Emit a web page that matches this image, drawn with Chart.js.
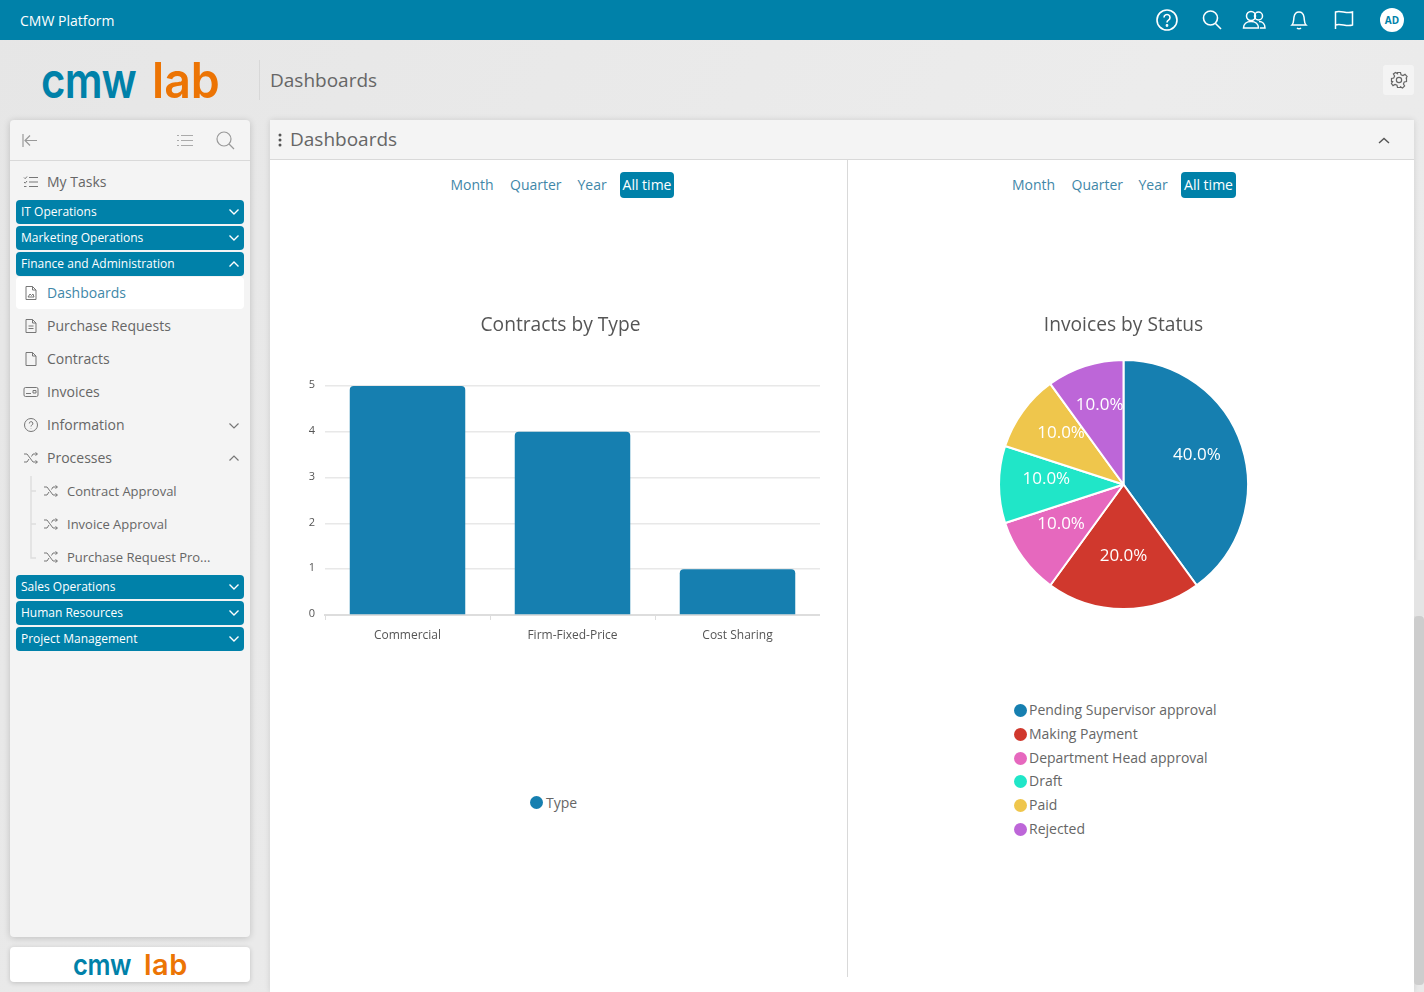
<!DOCTYPE html>
<html lang="en">
<head>
  <meta charset="utf-8">
  <title>CMW Platform - Dashboards</title>
  <script src="https://cdn.jsdelivr.net/npm/chart.js"></script>
  <style>
    html, body { margin: 0; padding: 0; height: 992px; overflow: hidden; }
    body { font-family: 'Open Sans', sans-serif; background: linear-gradient(120deg, #e6e6e6, #ececec 60%, #e9e9e9); color: #666; position: relative; }
    .abs, canvas { position: absolute; }
    .topbar { left: 0; top: 0; width: 1424px; height: 40px; background: #0081a9; color: #fff; }
    .topbar .brand { position: absolute; left: 20px; top: 11px; font-size: 14px; line-height: 19px; font-weight: 500; }
    .topbar svg { position: absolute; top: 8px; }
    .avatar { position: absolute; left: 1380px; top: 8px; width: 24px; height: 24px; border-radius: 50%; background: #fff; color: #0081a9; font-size: 10px; font-weight: 700; line-height: 24px; text-align: center; }
    .logo { font-family: Inter, sans-serif; font-weight: 600; white-space: nowrap; transform-origin: left center; }
    .pagetitle { left: 270px; top: 66px; font-size: 19px; line-height: 28px; color: #666; }
    .sep { left: 259px; top: 60px; width: 1px; height: 40px; background: #d8d8d8; }
    .gear { left: 1383px; top: 65px; width: 31px; height: 30px; background: #f4f4f4; border-radius: 3px; }
    .sidebar { left: 10px; top: 120px; width: 240px; height: 817px; background: #f4f4f4; border-radius: 4px; box-shadow: 0 1px 7px rgba(0,0,0,.18); }
    .sidehead { left: 10px; top: 120px; width: 240px; height: 40px; border-bottom: 1px solid #d9d9d9; }
    .group { left: 16px; width: 228px; height: 24px; background: #0081a9; border-radius: 4px; color: #fff; font-size: 12px; line-height: 24px; font-weight: 500; text-indent: 5px; }
    .group svg { position: absolute; right: 4px; top: 6px; }
    .active { left: 16px; top: 277px; width: 228px; height: 32px; background: #fff; border-radius: 4px; }
    .item { font-size: 14px; line-height: 20px; color: #666; white-space: nowrap; }
    .sub { font-size: 13px; }
    .panel { left: 270px; top: 120px; width: 1144px; height: 872px; background: #fff; box-shadow: 0 0 6px rgba(0,0,0,.12); }
    .panelhead { left: 270px; top: 120px; width: 1144px; height: 39px; background: #f4f4f4; border-bottom: 1px solid #d9d9d9; }
    .paneltitle { left: 290px; top: 125px; font-size: 19px; line-height: 28px; color: #666; }
    .divider { left: 847px; top: 160px; width: 1px; height: 817px; background: #d9d9d9; }
    .range { font-size: 14px; line-height: 26px; color: #3f87a8; white-space: nowrap; }
    .range.on { background: #0081a9; color: #fff; border-radius: 4px; text-align: center; height: 26px; }
    .scroll { left: 1414px; top: 616px; width: 10px; height: 369px; background: #cdcdcd; border-radius: 4px; }
    .legend-row { position: absolute; font-size: 14px; line-height: 18px; color: #666; white-space: nowrap; }
    .legend-row i { position: absolute; left: 0; top: 2.500px; width: 13px; height: 13px; border-radius: 50%; }
    .footer { left: 10px; top: 947px; width: 240px; height: 35px; background: #fff; border-radius: 4px; box-shadow: 0 1px 5px rgba(0,0,0,.18); }
  </style>
</head>
<body>
  <div class="abs topbar">
    <span class="brand">CMW Platform</span>
    <svg style="left:1155px" width="24" height="24" viewBox="0 0 24 24" fill="none" stroke="#fff" stroke-width="1.6"><circle cx="12" cy="12" r="10"/><path d="M9 9.500a3 3 0 1 1 4.500 2.600c-1 .6-1.500 1.200-1.500 2.400"/><circle cx="12" cy="17.500" r=".6"/></svg>
    <svg style="left:1200px" width="24" height="24" viewBox="0 0 24 24" fill="none" stroke="#fff" stroke-width="1.6"><circle cx="10.500" cy="10" r="7"/><path d="M15.500 15.500l5.500 5.500"/></svg>
    <svg style="left:1242px" width="24" height="24" viewBox="0 0 24 24" fill="none" stroke="#fff" stroke-width="1.5"><circle cx="9" cy="8" r="4.500"/><circle cx="16.500" cy="8" r="4"/><path d="M1.500 20c0-4 3-6.500 7.500-6.500s7.500 2.500 7.500 6.500zM17 13.500c3.500 0 6 2.500 6 6.500h-5"/></svg>
    <svg style="left:1287px" width="24" height="24" viewBox="0 0 24 24" fill="none" stroke="#fff" stroke-width="1.5"><path d="M5 17c2-2 1.500-5 2-8s2.500-5 5-5 4.500 2 5 5 0 6 2 8z"/><path d="M10 20c1 1 3 1 4 0"/></svg>
    <svg style="left:1332px" width="24" height="24" viewBox="0 0 24 24" fill="none" stroke="#fff" stroke-width="1.5"><path d="M3.500 21V4c5-2 11 2 17 0v13c-6 2-12-2-17 0"/></svg>
    <span class="avatar">AD</span>
  </div>

  <span class="abs logo" style="left:41px;top:50px;font-size:50px;line-height:60px;letter-spacing:-1px;color:#0081a9;transform:scaleX(.84)">cmw</span>
  <span class="abs logo" style="left:152px;top:50px;font-size:50px;line-height:60px;letter-spacing:0;color:#ec7404;transform:scaleX(.93)">lab</span>
  <div class="abs sep"></div>
  <div class="abs pagetitle">Dashboards</div>
  <div class="abs gear">
    <svg style="position:absolute;left:7px;top:6px" width="18" height="18" viewBox="0 0 24 24" fill="none" stroke="#666" stroke-width="1.6"><circle cx="12" cy="12" r="3.500"/><path d="M10 2h4l.7 3 2.600 1.100 2.700-1.600 2.800 2.800-1.600 2.700L21 10l1 0v4l-3 .7-1.100 2.600 1.600 2.700-2.800 2.800-2.700-1.600L14 22h-4l-.7-3-2.600-1.100-2.700 1.600-2.100-2.800 1.600-2.700L3 14H2v-4l3-.7 1.100-2.600-1.600-2.700 2.800-2.100 2.700 1.600z"/></svg>
  </div>

  <div class="abs sidebar"></div>
  <div class="abs sidehead">
    <svg style="position:absolute;left:11px;top:12px" width="18" height="18" viewBox="0 0 18 18" fill="none" stroke="#999" stroke-width="1.200"><path d="M2 2v13M16 8.500H4M9 3.500l-5 5 5 5"/></svg>
    <svg style="position:absolute;left:166px;top:12px" width="18" height="18" viewBox="0 0 18 18" fill="none" stroke="#aaa" stroke-width="1.200"><path d="M5 3.500h12M5 8.500h12M5 13.500h12M1 3.500h2M1 8.500h2M1 13.500h2"/></svg>
    <svg style="position:absolute;left:205px;top:10px" width="20" height="20" viewBox="0 0 20 20" fill="none" stroke="#999" stroke-width="1.200"><circle cx="9" cy="9" r="7"/><path d="M14 14l5 5"/></svg>
  </div>
  <div id="nav"></div>

  <div class="abs footer"></div>
  <span class="abs logo" style="left:73px;top:945px;font-size:29px;line-height:40px;letter-spacing:-.5px;color:#0081a9;transform:scaleX(.88)">cmw</span>
  <span class="abs logo" style="left:144px;top:945px;font-size:29px;line-height:40px;letter-spacing:.5px;color:#ec7404">lab</span>

  <div class="abs panel"></div>
  <div class="abs panelhead"></div>
  <svg class="abs" style="left:276px;top:132px" width="8" height="16"><circle cx="4" cy="3" r="1.500" fill="#555"/><circle cx="4" cy="8" r="1.500" fill="#555"/><circle cx="4" cy="13" r="1.500" fill="#555"/></svg>
  <div class="abs paneltitle">Dashboards</div>
  <svg class="abs" style="left:1377px;top:136px" width="14" height="10" fill="none" stroke="#555" stroke-width="1.400"><path d="M2 7l5-4.500L12 7"/></svg>
  <div class="abs divider"></div>

  <span class="abs range" style="left:450.500px;top:172px">Month</span>
  <span class="abs range" style="left:510px;top:172px">Quarter</span>
  <span class="abs range" style="left:577.500px;top:172px">Year</span>
  <span class="abs range on" style="left:620px;top:172px;width:54px">All time</span>
  <span class="abs range" style="left:1012px;top:172px">Month</span>
  <span class="abs range" style="left:1071.500px;top:172px">Quarter</span>
  <span class="abs range" style="left:1138.500px;top:172px">Year</span>
  <span class="abs range on" style="left:1181px;top:172px;width:55px">All time</span>

  <canvas id="contracts-chart" width="519" height="344" style="left:301px;top:300px"></canvas>
  <canvas id="invoices-chart" width="451" height="310" style="left:898px;top:300px"></canvas>
  <div id="legends"></div>
  <div class="abs" style="left:1414px;top:560px;width:10px;height:56px;background:#e4e4e4"></div>
  <div class="abs scroll"></div>

  <script>
    // sidebar
    const chevDown = '<svg width="12" height="12" fill="none" stroke="#fff" stroke-width="1.400"><path d="M1.500 3.500L6 8l4.500-4.500"/></svg>';
    const chevUp = '<svg width="12" height="12" fill="none" stroke="#fff" stroke-width="1.400"><path d="M1.500 8.500L6 4l4.500 4.500"/></svg>';
    const doc = '<path d="M3 1.500h6.500L13 5v9.500H3zM9.500 1.500V5H13"/>';
    const shuffle = '<path d="M1 4h3l6 8h4M1 12h3l2-3M8.500 6.500L10 4h4M12.500 2.500L14.500 4l-2 1.500M12.500 10.500l2 1.500-2 1.500"/>';
    const groups = [
      ['IT Operations', 200, false], ['Marketing Operations', 226, false], ['Finance and Administration', 252, true],
      ['Sales Operations', 575, false], ['Human Resources', 601, false], ['Project Management', 627, false]
    ];
    const items = [
      ['My Tasks', 182, 47, '<path d="M6 3.500h9M6 8h9M6 12.500h9M1 3.500l1.200 1.200L4 2.500M1 8l1.200 1.200L4 7M1 12.500h2.500"/>'],
      ['Dashboards', 293, 47, doc + '<path d="M5 12l2-3 1.500 1.500L10 9l1 3z"/>', '#3f87a8'],
      ['Purchase Requests', 326, 47, doc + '<path d="M5.500 8h5M5.500 10.500h5"/>'],
      ['Contracts', 359, 47, doc],
      ['Invoices', 392, 47, '<rect x="1" y="3.500" width="14" height="9" rx="1.500"/><path d="M3 9.500h5M10 6.500h3v2.500h-3z"/>'],
      ['Information', 425, 47, '<circle cx="8" cy="8" r="6.500"/><path d="M6.300 6.500a1.800 1.800 0 1 1 2.500 1.600c-.6.300-.8.700-.8 1.400M8 11.300v.4"/>'],
      ['Processes', 458, 47, shuffle],
      ['Contract Approval', 491, 67, shuffle, null, true],
      ['Invoice Approval', 524, 67, shuffle, null, true],
      ['Purchase Request Pro...', 557, 67, shuffle, null, true]
    ];
    let nav = '<div class="abs active"></div>';
    groups.forEach(g => {
      nav += `<div class="abs group" style="top:${g[1]}px">${g[0]}${g[2] ? chevUp : chevDown}</div>`;
    });
    items.forEach(it => {
      const color = it[4] || '#666';
      nav += `<span class="abs item${it[5] ? ' sub' : ''}" style="left:${it[2]}px;top:${it[1] - 10}px;color:${color}">${it[0]}</span>`;
      nav += `<svg class="abs" style="left:${it[2] - 24}px;top:${it[1] - 8}px" width="16" height="16" fill="none" stroke="#777" stroke-width="1">${it[3]}</svg>`;
    });
    nav += '<svg class="abs" style="left:228px;top:420px" width="12" height="12" fill="none" stroke="#777" stroke-width="1.200"><path d="M1.500 3.500L6 8l4.500-4.500"/></svg>';
    nav += '<svg class="abs" style="left:228px;top:452px" width="12" height="12" fill="none" stroke="#777" stroke-width="1.200"><path d="M1.500 8.500L6 4l4.500 4.500"/></svg>';
    nav += '<svg class="abs" style="left:28px;top:474px" width="14" height="90" fill="none" stroke="#ddd" stroke-width="1.400"><path d="M3 2v82h5M3 17h5M3 50h5"/></svg>';
    document.getElementById('nav').innerHTML = nav;

    // charts
    Chart.defaults.font.family = "'Open Sans', sans-serif";
    Chart.defaults.color = '#555';
    Chart.defaults.animation = false;

    const titleOpts = (text, gap) => ({
      display: true, text: text, color: '#555',
      font: { size: 19.2, weight: 'normal' },
      padding: { top: 14, bottom: gap }
    });

    const contracts = new Chart(document.getElementById('contracts-chart'), {
      type: 'bar',
      data: {
        labels: ['Commercial', 'Firm-Fixed-Price', 'Cost Sharing'],
        datasets: [{
          label: 'Type', data: [5, 4, 1], backgroundColor: '#167fb0',
          borderRadius: { topLeft: 4, topRight: 4 }, borderSkipped: 'bottom',
          barPercentage: 0.7, categoryPercentage: 1
        }]
      },
      options: {
        responsive: false,
        plugins: { legend: { display: false }, tooltip: { enabled: false }, title: titleOpts('Contracts by Type', 49) },
        scales: {
          x: {
            afterFit: s => { s.height = 29; },
            grid: { drawOnChartArea: false, tickLength: 5, color: '#ddd' },
            border: { color: '#ddd', width: 2 },
            ticks: { font: { size: 12 }, color: '#555', padding: 8, maxRotation: 0 }
          },
          y: {
            beginAtZero: true, max: 5,
            afterFit: s => { s.width = 24; },
            grid: { color: '#e8e8e8', drawTicks: false, lineWidth: 1.500 },
            border: { display: false },
            ticks: { stepSize: 1, font: { size: 11 }, color: '#555', padding: 10, labelOffset: -1 }
          }
        }
      }
    });

    // percent labels on the slices
    const sliceLabels = {
      id: 'sliceLabels',
      afterDatasetsDraw(chart) {
        const ctx = chart.ctx;
        const values = chart.data.datasets[0].data;
        const total = values.reduce((a, b) => a + b, 0);
        ctx.save();
        ctx.font = "17px 'Open Sans', sans-serif";
        ctx.fillStyle = '#fff';
        ctx.textAlign = 'center';
        ctx.textBaseline = 'middle';
        chart.getDatasetMeta(0).data.forEach((arc, i) => {
          const mid = (arc.startAngle + arc.endAngle) / 2;
          const r = arc.outerRadius * 0.62;
          ctx.fillText((values[i] / total * 100).toFixed(1) + '%', arc.x + Math.cos(mid) * r, arc.y + Math.sin(mid) * r - 5.5);
        });
        ctx.restore();
      }
    };

    const invoices = new Chart(document.getElementById('invoices-chart'), {
      type: 'pie',
      data: {
        labels: ['Pending Supervisor approval', 'Making Payment', 'Department Head approval', 'Draft', 'Paid', 'Rejected'],
        datasets: [{
          data: [4, 2, 1, 1, 1, 1],
          backgroundColor: ['#167fb0', '#d0382d', '#e668be', '#20e6c8', '#efc64c', '#bd66d8'],
          borderColor: '#fff', borderWidth: 2
        }]
      },
      options: {
        responsive: false,
        plugins: { legend: { display: false }, tooltip: { enabled: false }, title: titleOpts('Invoices by Status', 22) }
      },
      plugins: [sliceLabels]
    });

    // html legends
    const rowsY = [710, 734, 758, 781, 805, 829];
    let legendHtml = `<div class="legend-row" style="left:530px;top:793.500px;padding-left:16px"><i style="background:${contracts.data.datasets[0].backgroundColor}"></i>${contracts.data.datasets[0].label}</div>`;
    invoices.data.labels.forEach((label, i) => {
      legendHtml += `<div class="legend-row" style="left:1014px;top:${rowsY[i] - 9}px;padding-left:15px"><i style="background:${invoices.data.datasets[0].backgroundColor[i]}"></i>${label}</div>`;
    });
    document.getElementById('legends').innerHTML = legendHtml;
  </script>
</body>
</html>
